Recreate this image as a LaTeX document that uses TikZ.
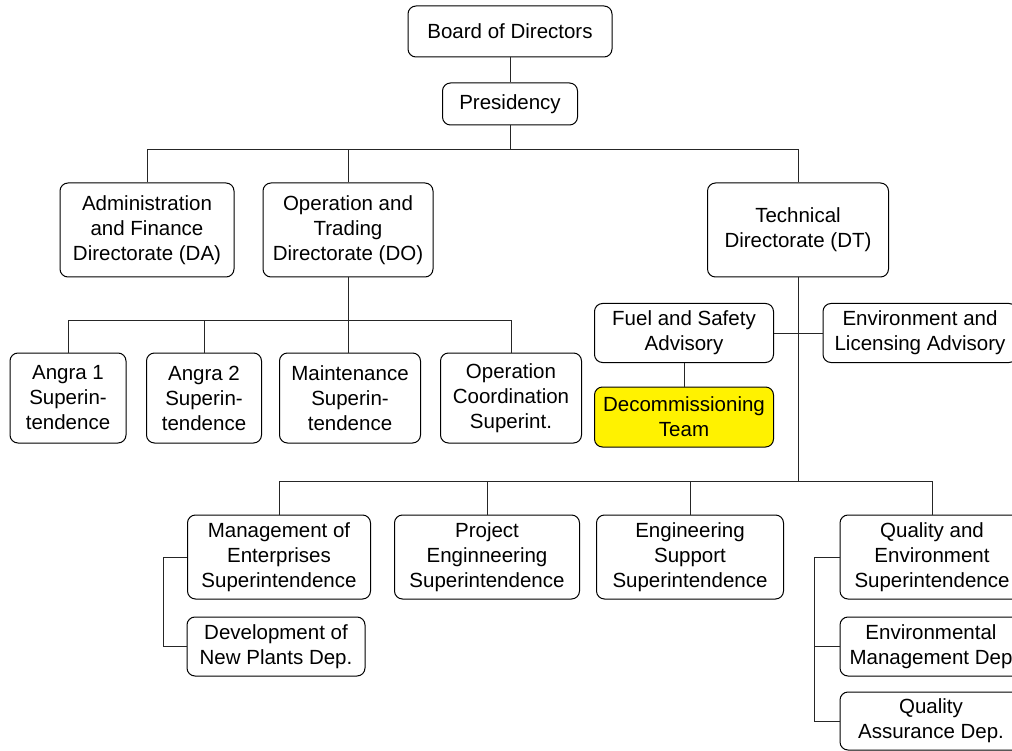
\documentclass[tikz,border=0pt]{standalone}
\usepackage{fontspec}
\setmainfont{Liberation Sans}
\begin{document}
\begin{tikzpicture}[x=1pt,y=-1pt,
  box/.style={draw=black,line width=1pt,rounded corners=8pt,fill=white,inner sep=0pt,
    align=center,font=\fontsize{20.5}{25}\selectfont},
  yellowbox/.style={box,fill=yellow},
  conn/.style={draw=black!85,line width=1pt}]
\useasboundingbox (0,0) rectangle (1012,751);
% top
\node[box,minimum width=204,minimum height=51] (board) at (510,31.5) {Board of Directors};
\node[box,minimum width=135,minimum height=42] (pres) at (510,104) {Presidency};
% directorates
\node[box,minimum width=174,minimum height=94] (admin) at (147,230) {Administration\\and Finance\\Directorate (DA)};
\node[box,minimum width=170,minimum height=94] (optr) at (348,230) {Operation and\\Trading\\Directorate (DO)};
\node[box,minimum width=181,minimum height=94] (tech) at (798,230) {Technical\\Directorate (DT)};
% DO children
\node[box,minimum width=116,minimum height=90] (angra1) at (68,398) {Angra 1\\Superin-\\tendence};
\node[box,minimum width=115,minimum height=90] (angra2) at (204,398) {Angra 2\\Superin-\\tendence};
\node[box,minimum width=141,minimum height=90] (maint) at (350,398) {Maintenance\\Superin-\\tendence};
\node[box,minimum width=141,minimum height=90] (opco) at (511,398) {Operation\\Coordination\\Superint.};
% DT advisories
\node[box,minimum width=179,minimum height=59] (fuel) at (684,333) {Fuel and Safety\\Advisory};
\node[box,minimum width=194,minimum height=59] (env) at (920,333) {Environment and\\Licensing Advisory};
\node[yellowbox,minimum width=179,minimum height=60] (decom) at (684,417) {Decommissioning\\Team};
% DT superintendences
\node[box,minimum width=183,minimum height=84] (mgmt) at (279,557) {Management of\\Enterprises\\Superintendence};
\node[box,minimum width=185,minimum height=84] (proj) at (487,557) {Project\\Enginneering\\Superintendence};
\node[box,minimum width=187,minimum height=84] (eng) at (690,557) {Engineering\\Support\\Superintendence};
\node[box,minimum width=184,minimum height=84] (qual) at (932,557) {Quality and\\Environment\\Superintendence};
\node[box,minimum width=178,minimum height=59] (dev) at (276,646.5) {Development of\\New Plants Dep.};
\node[box,minimum width=182,minimum height=59] (envm) at (931,646.5) {Environmental\\Management Dep};
\node[box,minimum width=182,minimum height=58] (qa) at (931,721) {Quality\\Assurance Dep.};
% bus coordinates
\coordinate (b1) at (0,150);
\coordinate (b2) at (0,321);
\coordinate (b3) at (0,481);
\coordinate (k1) at (163,0);
\coordinate (k2) at (814,0);
% connectors
\draw[conn] (board) -- (pres);
\draw[conn] (pres.south) -- (pres.south |- b1);
\draw[conn] (admin.north) -- (admin.north |- b1) -- (tech.north |- b1) -- (tech.north);
\draw[conn] (optr.north) -- (optr.north |- b1);
\draw[conn] (optr.south) -- (optr.south |- maint.north);
\draw[conn] (angra1.north) -- (angra1.north |- b2) -- (opco.north |- b2) -- (opco.north);
\draw[conn] (angra2.north) -- (angra2.north |- b2);
\draw[conn] (tech.south) -- (tech.south |- b3);
\draw[conn] (fuel.east) -- (env.west);
\draw[conn] (fuel.south) -- (decom.north);
\draw[conn] (mgmt.north) -- (mgmt.north |- b3) -- (qual.north |- b3) -- (qual.north);
\draw[conn] (proj.north) -- (proj.north |- b3);
\draw[conn] (eng.north) -- (eng.north |- b3);
\draw[conn] (mgmt.west) -- (mgmt.west -| k1) |- (dev.west);
\draw[conn] (qual.west) -- (qual.west -| k2) |- (qa.west);
\draw[conn] (envm.west) -- (envm.west -| k2);
\end{tikzpicture}
\end{document}
